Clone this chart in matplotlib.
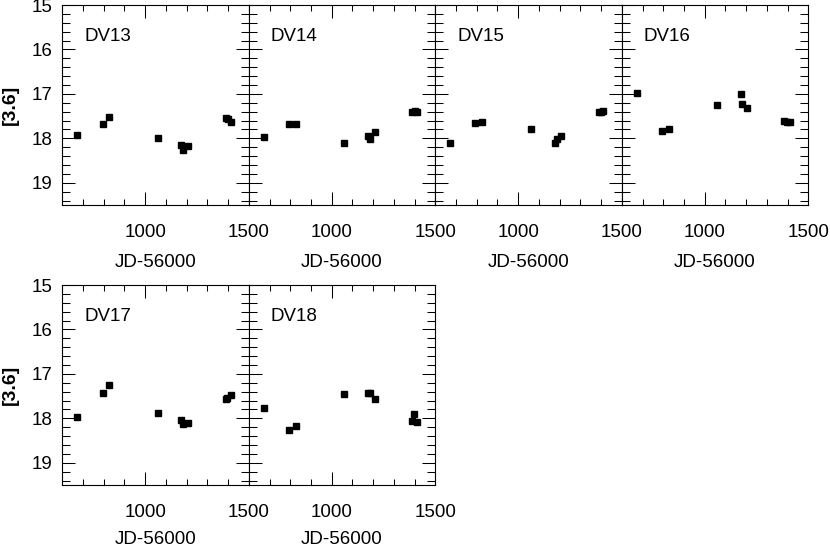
import matplotlib
matplotlib.use("Agg")
import matplotlib.pyplot as plt
from matplotlib.ticker import MultipleLocator

plt.rcParams['font.family'] = ['Liberation Sans', 'DejaVu Sans']

# ---- data (JD-56000, [3.6] magnitude) ----
names = ['DV13', 'DV14', 'DV15', 'DV16', 'DV17', 'DV18']

jd_dv13 = [670, 796, 827, 1061, 1175, 1184, 1207, 1391, 1400, 1412]
mag_dv13 = [17.93, 17.67, 17.53, 18.00, 18.15, 18.26, 18.17, 17.55, 17.57, 17.63]

jd_dv14 = [671, 795, 827, 1058, 1175, 1184, 1207, 1388, 1401, 1412]
mag_dv14 = [17.97, 17.67, 17.67, 18.11, 17.95, 18.02, 17.86, 17.41, 17.38, 17.41]

jd_dv15 = [673, 793, 825, 1064, 1178, 1189, 1205, 1389, 1400, 1410]
mag_dv15 = [18.10, 17.65, 17.63, 17.80, 18.10, 18.02, 17.95, 17.41, 17.40, 17.38]

jd_dv16 = [673, 795, 827, 1059, 1175, 1180, 1203, 1385, 1399, 1412]
mag_dv16 = [16.99, 17.84, 17.78, 17.24, 17.01, 17.22, 17.31, 17.62, 17.63, 17.63]

jd_dv17 = [670, 796, 827, 1061, 1175, 1184, 1207, 1388, 1397, 1413]
mag_dv17 = [17.97, 17.43, 17.26, 17.87, 18.04, 18.13, 18.11, 17.56, 17.54, 17.48]

jd_dv18 = [671, 795, 827, 1058, 1175, 1184, 1207, 1388, 1396, 1412]
mag_dv18 = [17.77, 18.27, 18.18, 17.46, 17.43, 17.43, 17.57, 18.07, 17.90, 18.08]

jds = [jd_dv13, jd_dv14, jd_dv15, jd_dv16, jd_dv17, jd_dv18]
mags = [mag_dv13, mag_dv14, mag_dv15, mag_dv16, mag_dv17, mag_dv18]

x_label = 'JD-56000'
y_label = '[3.6]'

# ---- layout ----
W, H = 830, 547
fig = plt.figure(figsize=(W / 100, H / 100), dpi=100)

col_left = [62.3, 248.8, 435.3, 621.8]
pw = 186.5
row_top = [5.0, 285.0]
ph = 200.0
FS = 13.5

for i, (name, jd, mag) in enumerate(zip(names, jds, mags)):
    r, c = divmod(i, 4)
    ax = fig.add_axes([col_left[c] / W, 1 - (row_top[r] + ph) / H, pw / W, ph / H])
    ax.plot(jd, mag, linestyle='none', marker='s', ms=4.2, color='black', mec='black')
    ax.set_xlim(600, 1500)
    ax.set_ylim(19.5, 15)
    ax.xaxis.set_major_locator(MultipleLocator(500))
    ax.xaxis.set_minor_locator(MultipleLocator(100))
    ax.yaxis.set_major_locator(MultipleLocator(1))
    ax.yaxis.set_minor_locator(MultipleLocator(0.2))
    ax.tick_params(which='both', direction='in', top=True, right=True,
                   width=0.75, color='black', labelsize=FS)
    ax.tick_params(which='major', length=9.5)
    ax.tick_params(axis='x', which='minor', length=4.3)
    ax.tick_params(axis='y', which='minor', length=5.6)
    ax.tick_params(axis='x', which='major', pad=13.5)
    ax.tick_params(axis='y', which='major', pad=7)
    for s in ax.spines.values():
        s.set_linewidth(0.8)
    if c != 0:
        ax.set_yticklabels([])
    else:
        ax.text(-0.278, 0.5, y_label, rotation=90, ha='center', va='center',
                fontsize=14, fontweight='bold', transform=ax.transAxes)
    ax.set_xlabel(x_label, fontsize=FS)
    ax.xaxis.set_label_coords(0.5, -0.245 if r == 0 else -0.232)
    ax.text(0.118, 0.818, name, ha='left', va='baseline', fontsize=FS,
            transform=ax.transAxes)

fig.savefig('out.png', dpi=100)
